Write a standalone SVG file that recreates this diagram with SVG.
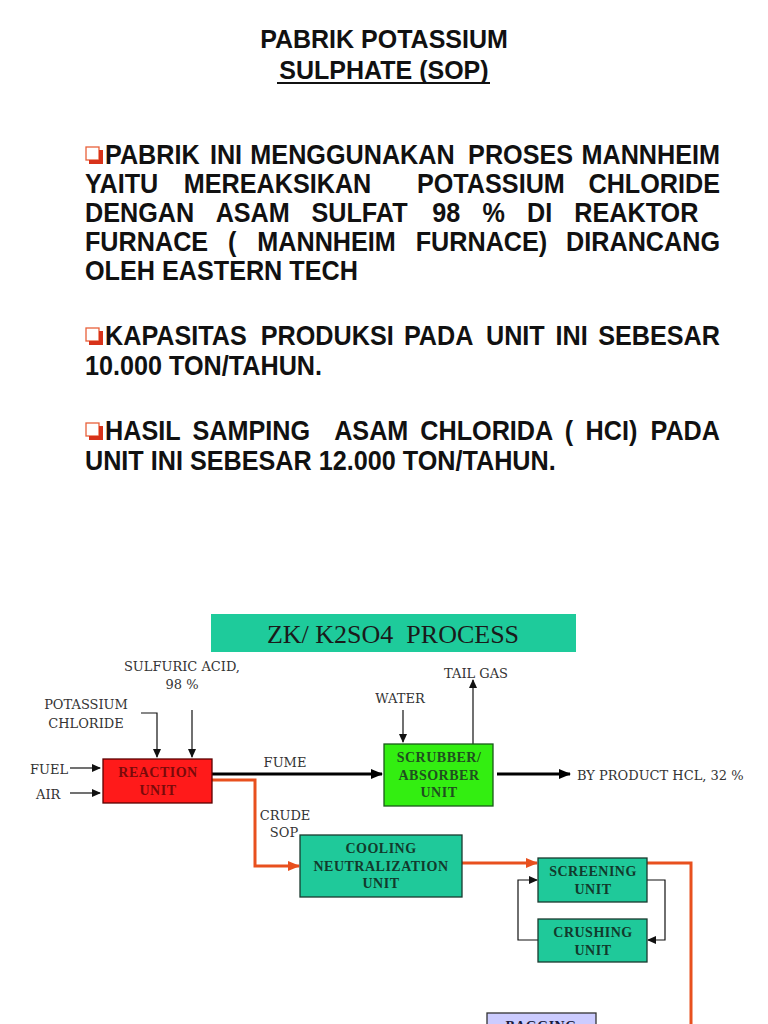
<svg xmlns="http://www.w3.org/2000/svg" width="768" height="1024" viewBox="0 0 768 1024">
<style>
.ttl{font-family:"Liberation Sans",Arial,sans-serif;font-weight:bold;font-size:25px;fill:#111}
.body{font-family:"Liberation Sans",Arial,sans-serif;font-weight:bold;font-size:28px;fill:#111}
.lbl{font-family:"DejaVu Serif","Liberation Serif",serif;font-size:13px;fill:#333}
.nt{font-family:"Liberation Serif","Times New Roman",serif;font-weight:bold;font-size:14px;letter-spacing:0.5px;text-anchor:middle}
.thin{fill:none;stroke:#111;stroke-width:1.2}
.thick{fill:none;stroke:#000;stroke-width:3}
.or{fill:none;stroke:#e8501e;stroke-width:3}
.box{stroke:#1a3a2e;stroke-width:1.3}
.teal{fill:#1fc99a}
</style>
<defs>
<marker id="a" markerUnits="userSpaceOnUse" markerWidth="9" markerHeight="8" refX="8" refY="4" orient="auto"><path d="M0,0 L9,4 L0,8 z" fill="#111"/></marker>
<marker id="ab" markerUnits="userSpaceOnUse" markerWidth="12" markerHeight="10" refX="11" refY="5" orient="auto"><path d="M0,0 L12,5 L0,10 z" fill="#000"/></marker>
<marker id="ao" markerUnits="userSpaceOnUse" markerWidth="12" markerHeight="10" refX="11" refY="5" orient="auto"><path d="M0,0 L12,5 L0,10 z" fill="#e8501e"/></marker>
<g id="bul"><rect x="86" y="0" width="13" height="13" fill="#fff" stroke="#e8603a" stroke-width="1.3"/><path d="M99,3 h4 v14 h-14 v-4 h10 z" fill="#d8321a"/></g>
</defs>

<g id="header">
<text class="ttl" x="384" y="48" text-anchor="middle">PABRIK POTASSIUM</text>
<text class="ttl" x="384" y="79" text-anchor="middle">SULPHATE (SOP)</text>
<line x1="277" y1="83" x2="490" y2="83" stroke="#111" stroke-width="1.8"/>
</g>

<g id="bullets">
<use href="#bul" y="147"/>
<use href="#bul" y="328"/>
<use href="#bul" y="423"/>
<g transform="scale(0.9 1)" class="body">
<text y="164"><tspan x="116.67">PABRIK</tspan><tspan x="233.2">INI</tspan><tspan x="278.2">MENGGUNAKAN</tspan><tspan x="520.1">PROSES</tspan></text>
<text y="164" x="800" text-anchor="end">MANNHEIM</text>
<text y="193.5"><tspan x="94.44">YAITU</tspan><tspan x="204.2">MEREAKSIKAN</tspan><tspan x="463.3">POTASSIUM</tspan></text>
<text y="193.5" x="800" text-anchor="end">CHLORIDE</text>
<text y="222.5"><tspan x="94.44">DENGAN</tspan><tspan x="239.6">ASAM</tspan><tspan x="346.1">SULFAT</tspan><tspan x="480.4">98</tspan><tspan x="536.1">%</tspan><tspan x="585.6">DI</tspan><tspan x="638.1">REAKTOR</tspan></text>
<text y="251"><tspan x="94.44">FURNACE</tspan><tspan x="253.4">(</tspan><tspan x="285.9">MANNHEIM</tspan><tspan x="461.9">FURNACE)</tspan></text>
<text y="251" x="800" text-anchor="end">DIRANCANG</text>
<text y="280" x="94.44">OLEH EASTERN TECH</text>
<text y="345"><tspan x="116.67">KAPASITAS</tspan><tspan x="289.7">PRODUKSI</tspan><tspan x="448.8">PADA</tspan><tspan x="540">UNIT</tspan><tspan x="617.3">INI</tspan></text>
<text y="345" x="800" text-anchor="end">SEBESAR</text>
<text y="375" x="94.44">10.000 TON/TAHUN.</text>
<text y="440"><tspan x="116.67">HASIL</tspan><tspan x="213.9">SAMPING</tspan><tspan x="371.3">ASAM</tspan><tspan x="467">CHLORIDA</tspan><tspan x="627.4">(</tspan><tspan x="650.6">HCI)</tspan></text>
<text y="440" x="800" text-anchor="end">PADA</text>
<text y="470" x="94.44">UNIT INI SEBESAR 12.000 TON/TAHUN.</text>
</g>
</g>

<g id="process-title">
<rect x="211" y="614" width="365" height="38" fill="#1ecb9b"/>
<text x="393" y="643" text-anchor="middle" font-family="Liberation Serif, Times New Roman, serif" font-size="26" fill="#1a1a1a" xml:space="preserve">ZK/ K2SO4  PROCESS</text>
</g>

<g id="labels" class="lbl">
<text x="182" y="671" text-anchor="middle">SULFURIC ACID,</text>
<text x="182" y="689" text-anchor="middle">98 %</text>
<text x="86" y="709" text-anchor="middle">POTASSIUM</text>
<text x="86" y="728" text-anchor="middle">CHLORIDE</text>
<text x="400" y="703" text-anchor="middle">WATER</text>
<text x="476" y="678" text-anchor="middle">TAIL GAS</text>
<text x="30" y="774">FUEL</text>
<text x="36" y="799">AIR</text>
<text x="285" y="767" text-anchor="middle">FUME</text>
<text x="577" y="780">BY PRODUCT HCL, 32 %</text>
<text x="285" y="820" text-anchor="middle">CRUDE</text>
<text x="284" y="837" text-anchor="middle">SOP</text>
</g>

<g id="connectors">
<path class="thin" d="M141,713 H157 V757" marker-end="url(#a)"/>
<path class="thin" d="M192,710 V757" marker-end="url(#a)"/>
<path class="thin" d="M70,768 H100" marker-end="url(#a)"/>
<path class="thin" d="M70,793 H100" marker-end="url(#a)"/>
<path class="thin" d="M403,710 V742" marker-end="url(#a)"/>
<path class="thin" d="M473,744 V680" marker-end="url(#a)"/>
<path class="thick" d="M212,774 H382" marker-end="url(#ab)"/>
<path class="thick" d="M497,774 H570" marker-end="url(#ab)"/>
<path class="or" d="M212,780 H255 V866 H299" marker-end="url(#ao)"/>
<path class="or" d="M462,863 H537" marker-end="url(#ao)"/>
<path class="or" d="M647,863 H691 V1024"/>
<path class="thin" d="M647,880 H665 V940 H648" marker-end="url(#a)"/>
<path class="thin" d="M538,940 H518 V880 H537" marker-end="url(#a)"/>
</g>

<g id="reaction-unit">
<rect x="103" y="759" width="109" height="44" fill="#ff1a1a" stroke="#5a0000" stroke-width="1.3"/>
<text class="nt" x="158" y="777" fill="#7a0a0a">REACTION</text>
<text class="nt" x="158" y="795" fill="#7a0a0a">UNIT</text>
</g>

<g id="scrubber-unit">
<rect x="384" y="744" width="109" height="62" fill="#33ee11" stroke="#1a5a1a" stroke-width="1.3"/>
<text class="nt" x="439" y="762" fill="#1f4f1f">SCRUBBER/</text>
<text class="nt" x="439" y="780" fill="#1f4f1f">ABSORBER</text>
<text class="nt" x="439" y="797" fill="#1f4f1f">UNIT</text>
</g>

<g id="cooling-unit">
<rect class="teal box" x="300" y="835" width="162" height="62"/>
<text class="nt" x="381" y="853" fill="#123a2c">COOLING</text>
<text class="nt" x="381" y="871" fill="#123a2c">NEUTRALIZATION</text>
<text class="nt" x="381" y="888" fill="#123a2c">UNIT</text>
</g>

<g id="screening-unit">
<rect class="teal box" x="538" y="858" width="109" height="44"/>
<text class="nt" x="593" y="876" fill="#123a2c">SCREENING</text>
<text class="nt" x="593" y="894" fill="#123a2c">UNIT</text>
</g>

<g id="crushing-unit">
<rect class="teal box" x="538" y="919" width="109" height="43"/>
<text class="nt" x="593" y="937" fill="#123a2c">CRUSHING</text>
<text class="nt" x="593" y="955" fill="#123a2c">UNIT</text>
</g>

<g id="bagging-unit">
<rect x="487" y="1013" width="109" height="30" fill="#ccccff" stroke="#333" stroke-width="1.3"/>
<text class="nt" x="541" y="1031" fill="#1a1a3a">BAGGING</text>
</g>
</svg>
